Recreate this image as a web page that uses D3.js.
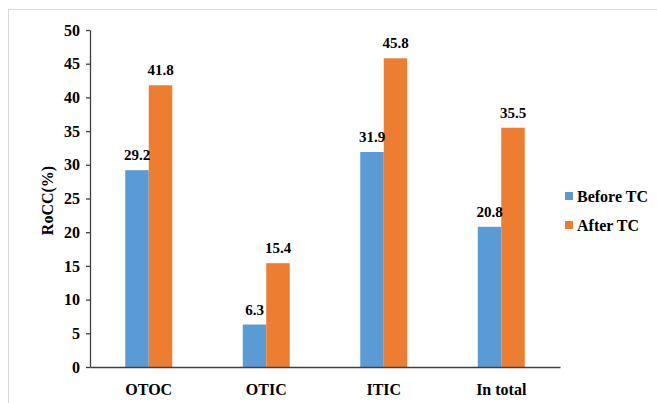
<!DOCTYPE html>
<html>
<head>
<meta charset="utf-8">
<script src="https://cdn.jsdelivr.net/npm/d3@7"></script>
<style>
  body { margin: 0; background: #fff; }
</style>
</head>
<body>
<div id="chart"></div>
<script>
const categories = ['OTOC', 'OTIC', 'ITIC', 'In total'];
const seriesNames = ['Before TC', 'After TC'];
const beforeTC = [29.2, 6.3, 31.9, 20.8];
const afterTC = [41.8, 15.4, 45.8, 35.5];
const yTicks = [0, 5, 10, 15, 20, 25, 30, 35, 40, 45, 50];
const colors = ['#5b9bd5', '#ed7d31'];

const width = 657, height = 403;
const margin = { left: 90, right: 97, top: 30, bottom: 36 };

const svg = d3.select('#chart').append('svg')
	.attr('width', width)
	.attr('height', height);

// light frame around the chart area
svg.append('rect')
	.attr('x', 8.5).attr('y', 9.5)
	.attr('width', width).attr('height', height)
	.attr('fill', 'none')
	.attr('stroke', '#d9d9d9');

const x = d3.scaleBand()
	.domain(categories)
	.range([margin.left, width - margin.right]);

const xInner = d3.scaleBand()
	.domain(seriesNames)
	.range([0, x.bandwidth()])
	.paddingOuter(1.5);

const y = d3.scaleLinear()
	.domain([0, 50])
	.range([height - margin.bottom, margin.top]);

const data = categories.map((c, i) => ({ cat: c, values: [beforeTC[i], afterTC[i]] }));

const groups = svg.append('g')
	.selectAll('g')
	.data(data)
	.join('g')
	.attr('transform', (d) => `translate(${x(d.cat)},0)`);

groups.selectAll('rect')
	.data((d) => d.values.map((v, i) => ({ name: seriesNames[i], value: v, i })))
	.join('rect')
	.attr('x', (d) => xInner(d.name))
	.attr('y', (d) => y(d.value))
	.attr('width', xInner.bandwidth())
	.attr('height', (d) => y(0) - y(d.value))
	.attr('fill', (d) => colors[d.i]);

groups.selectAll('text')
	.data((d) => d.values.map((v, i) => ({ name: seriesNames[i], value: v })))
	.join('text')
	.attr('x', (d) => xInner(d.name) + xInner.bandwidth() / 2)
	.attr('y', (d) => y(d.value) - 10)
	.attr('text-anchor', 'middle')
	.style('font-size', '15px')
	.text((d) => d.value.toFixed(1));

// y axis
const yAxis = svg.append('g')
	.attr('transform', `translate(${margin.left},0)`)
	.call(d3.axisLeft(y).tickValues(yTicks).tickSize(4).tickSizeOuter(0));
yAxis.selectAll('text').style('font-size', '16px').attr('dx', '-3px');
yAxis.selectAll('line, path').attr('stroke', '#404040').attr('stroke-width', 1.3);

// x axis
const xAxis = svg.append('g')
	.attr('transform', `translate(0,${y(0)})`)
	.call(d3.axisBottom(x).tickSize(0).tickSizeOuter(0));
xAxis.selectAll('text').style('font-size', '16px').attr('dy', '1.55em');
xAxis.select('path').attr('stroke', '#404040').attr('stroke-width', 1.3);

// y title
svg.append('text')
	.attr('transform', `translate(47,${(margin.top + y(0)) / 2 + 2}) rotate(-90)`)
	.attr('text-anchor', 'middle')
	.attr('dy', '0.35em')
	.style('font-size', '16px')
	.text('RoCC(%)');

// legend
const legend = svg.append('g')
	.selectAll('g')
	.data(seriesNames)
	.join('g')
	.attr('transform', (d, i) => `translate(565,${196 + i * 29})`);

legend.append('rect')
	.attr('x', 0).attr('y', -4)
	.attr('width', 8).attr('height', 8)
	.attr('fill', (d, i) => colors[i]);

legend.append('text')
	.attr('x', 12)
	.attr('dy', '0.35em')
	.style('font-size', '16px')
	.text((d) => d);

// d3 axes put font-family on the <g>; set it on every text directly
svg.selectAll('g').attr('font-family', null);
svg.selectAll('text')
	.style('font-family', '"Liberation Serif"')
	.style('font-weight', 'bold')
	.attr('fill', '#000');
</script>
</body>
</html>
